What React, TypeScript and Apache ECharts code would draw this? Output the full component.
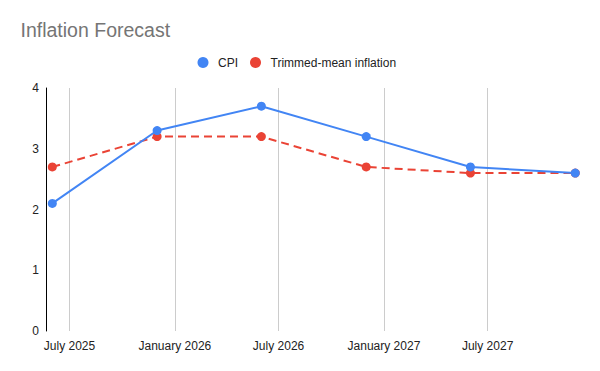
import React, { useEffect, useRef } from "react";
import * as echarts from "echarts";

const dates: [number, number, number][] = [
  [2025, 5, 1],
  [2025, 11, 1],
  [2026, 5, 1],
  [2026, 11, 1],
  [2027, 5, 1],
  [2027, 11, 1],
];
const cpi = [2.1, 3.3, 3.7, 3.2, 2.7, 2.6];
const trimmedMean = [2.7, 3.2, 3.2, 2.7, 2.6, 2.6];
const tickDates: [number, number, number][] = [
  [2025, 6, 1],
  [2026, 0, 1],
  [2026, 6, 1],
  [2027, 0, 1],
  [2027, 6, 1],
];
const monthNames = [
  "January", "February", "March", "April", "May", "June",
  "July", "August", "September", "October", "November", "December",
];
const yTicks = [0, 1, 2, 3, 4];

const ts = (d: [number, number, number]) => new Date(d[0], d[1], d[2]).getTime();
const FONT = "Arial, 'Liberation Sans', sans-serif";

export default function App() {
  const ref = useRef<HTMLDivElement>(null);
  useEffect(() => {
    if (!ref.current) return;
    const chart = echarts.init(ref.current, undefined, { renderer: "svg" });
    const xTicks = tickDates.map(ts);
    chart.setOption({
      animation: false,
      backgroundColor: "#ffffff",
      textStyle: { fontFamily: FONT },
      title: {
        text: "Inflation Forecast",
        left: 15.5,
        top: 15,
        textStyle: { fontSize: 19.5, fontWeight: "normal", color: "#757575", fontFamily: FONT },
      },
      legend: {
        left: 192.5,
        top: 51.5,
        icon: "circle",
        itemWidth: 20,
        itemHeight: 11,
        itemGap: 12,
        textStyle: { fontSize: 12, color: "#222222", fontFamily: FONT },
        data: ["CPI", "Trimmed-mean inflation"],
      },
      grid: { left: 46, right: 19, top: 88, bottom: 40, containLabel: false },
      xAxis: {
        type: "value",
        min: ts([2025, 4, 21]),
        max: ts([2027, 11, 11]),
        axisLine: { show: false },
        axisTick: { show: false, customValues: xTicks },
        axisLabel: {
          customValues: xTicks,
          fontSize: 12,
          color: "#222222",
          fontFamily: FONT,
          margin: 9,
          formatter: (v: number) => {
            const d = new Date(v);
            return monthNames[d.getMonth()] + " " + d.getFullYear();
          },
        },
        splitLine: { show: true, lineStyle: { color: "#cccccc", width: 1 } },
      },
      yAxis: {
        type: "value",
        min: 0,
        max: 4,
        interval: 1,
        axisLine: { show: true, lineStyle: { color: "#000000", width: 1 } },
        axisTick: { show: false },
        splitLine: { show: false },
        axisLabel: {
          fontSize: 12,
          color: "#222222",
          fontFamily: FONT,
          margin: 7,
          customValues: yTicks,
        },
      },
      series: [
        {
          name: "CPI",
          type: "line",
          data: dates.map((d, i) => [ts(d), cpi[i]]),
          color: "#4285f4",
          lineStyle: { width: 2, color: "#4285f4" },
          symbol: "circle",
          symbolSize: 9,
          itemStyle: { color: "#4285f4" },
          z: 3,
        },
        {
          name: "Trimmed-mean inflation",
          type: "line",
          data: dates.map((d, i) => [ts(d), trimmedMean[i]]),
          color: "#ea4335",
          lineStyle: { width: 2, color: "#ea4335", type: [8, 5] },
          symbol: "circle",
          symbolSize: 9,
          itemStyle: { color: "#ea4335" },
          z: 2,
        },
      ],
    });
    return () => chart.dispose();
  }, []);
  return <div ref={ref} style={{ width: 600, height: 371, position: "absolute", left: 0, top: 0 }} />;
}
